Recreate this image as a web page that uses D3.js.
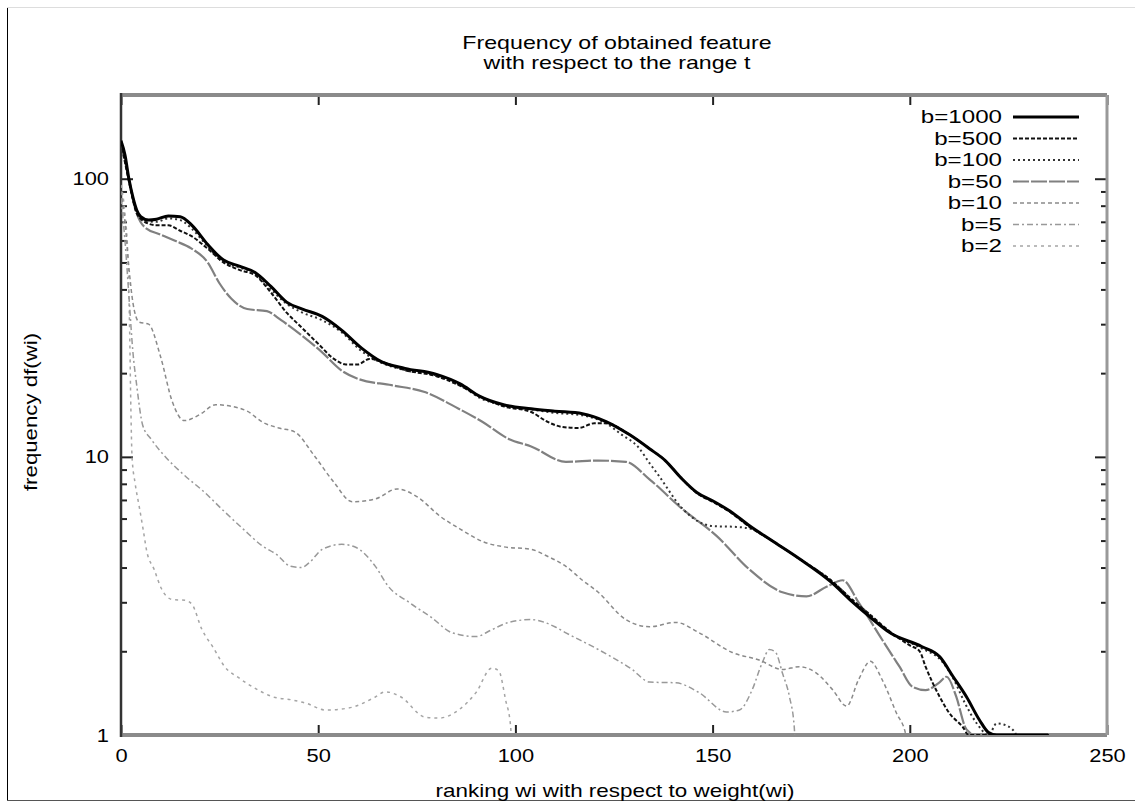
<!DOCTYPE html>
<html>
<head>
<meta charset="utf-8">
<script src="https://cdn.jsdelivr.net/npm/d3@7"></script>
<style>
  body { margin: 0; background: #fff; }
  text { font-family: "Liberation Sans", Arial, sans-serif; fill: #000; }
</style>
</head>
<body>
<script>
// DATA (x = rank, y = frequency)
const seriesNames = ['b=1000', 'b=500', 'b=100', 'b=50', 'b=10', 'b=5', 'b=2'];
const xTicks = [0, 50, 100, 150, 200, 250];
const yTicks = [1, 10, 100];

const b1000 = [[0,137],[1,122],[2,100],[3,86],[4,77],[5,73],[7,71],[9,71.5],[12,73.5],[15,73],[18,68],[22,58],[26,51],[30,48.5],[34,46],[38,41],[42,36],[46,34],[51,32],[56,28.5],[61,24.6],[66,22],[72,20.8],[80,19.8],[86,18.3],[91,16.5],[97,15.4],[104,14.9],[110,14.6],[117,14.3],[123,13.4],[129,12],[134,10.7],[138,9.7],[142,8.4],[146,7.45],[150,6.95],[155,6.3],[159,5.7],[165,5.0],[172,4.3],[180,3.55],[185,3.05],[190,2.65],[195,2.33],[203,2.08],[207.6,1.91],[211,1.62],[214.4,1.37],[217.7,1.13],[220,1.02],[222,1.0],[235,1.0],[236,0.3]];
const b500 = [[0,135],[2,98],[4,75],[6,70],[9,68],[12,68],[15,65],[18,62],[22,56],[26,50],[30,47],[34,45],[38,39],[42,33],[46,29],[50,25.5],[54,22.5],[57,21.5],[60,21.5],[63,22.5],[66,22],[72,20.5],[80,19.5],[86,18],[91,16.5],[97,15.2],[104,14.5],[108,13.4],[112,12.8],[116,12.7],[120,13.2],[123,13.2],[129,12],[134,10.7],[138,9.7],[142,8.4],[146,7.4],[150,6.9],[155,6.25],[159,5.65],[165,5.0],[172,4.3],[180,3.6],[185,3.1],[190,2.7],[195,2.35],[200,2.1],[202.5,2.0],[204,1.76],[205.8,1.54],[207.6,1.37],[210,1.2],[213.4,1.07],[215,1.0],[228,1.0],[229,0.3]];
const b100 = [[0,136],[2,99],[4,76],[6,71],[9,70],[12,72],[15,71],[18,66],[22,57],[26,50],[30,48],[34,45.5],[38,40],[42,35.5],[46,33],[51,31],[56,28],[61,24],[66,21.8],[72,20.5],[80,19.6],[86,18.1],[91,16.3],[97,15.3],[104,14.8],[110,14.4],[117,14.1],[123,13.2],[127,12],[131,10.9],[134,9.5],[136.5,8.5],[142,6.6],[146,5.9],[150,5.64],[156,5.6],[160,5.5],[165,5.0],[172,4.3],[180,3.6],[185,3.1],[190,2.7],[195,2.33],[203,2.05],[208,1.85],[211,1.6],[214,1.3],[217,1.1],[220,1.0],[222,1.1],[224.6,1.08],[227,1.0],[228,0.3]];
const b50 = [[0,135],[2,100],[4,75],[6,67],[10,63],[13.7,59.8],[17.8,56.2],[22,50],[25,42],[28,37],[32,34],[37,33.4],[40.6,31],[45.7,27.4],[50.8,23.9],[56,20.4],[60,19.1],[68.6,18.1],[77,17.1],[85.6,14.9],[91.5,13.4],[98.3,11.6],[104,10.9],[112.8,9.6],[121,9.7],[128,9.6],[134,8.3],[142.3,6.5],[151,5.2],[159.3,3.94],[167.7,3.26],[173.8,3.15],[179,3.42],[183,3.6],[187,3.0],[193,2.2],[197.4,1.76],[200.7,1.49],[204,1.45],[207.6,1.55],[209.3,1.62],[211.8,1.37],[214,1.07],[216,0.98],[217,0.3]];
const b10 = [[0,90],[1,70],[2,48],[3,36],[4.6,30.5],[7,30],[10,23],[13,15.8],[16,13.5],[20,14.2],[24,15.4],[28,15.2],[32,14.6],[36,13.3],[40,12.7],[44,12.3],[49,10.1],[54,8.1],[58.6,6.9],[64.5,7.06],[70,7.67],[75,7.2],[81,6.1],[86,5.5],[92,4.94],[97,4.75],[104,4.65],[108,4.4],[112.8,4.04],[117,3.6],[121,3.26],[128,2.6],[134,2.45],[140.7,2.54],[146.6,2.33],[155,1.98],[161.8,1.86],[167.7,1.72],[172,1.76],[176.3,1.67],[180.5,1.45],[184,1.27],[187,1.58],[190,1.84],[193,1.58],[196.6,1.2],[199,1.0],[200,0.3]];
const b5 = [[0,85],[1,60],[2,38],[3,24],[4,18],[5.5,13],[7.6,11.6],[11,10.1],[16,8.6],[21,7.5],[26,6.4],[31,5.5],[35.7,4.8],[39.5,4.45],[43,4.04],[45.7,4.0],[48,4.2],[51,4.65],[56,4.85],[59.5,4.73],[64.5,4.04],[67.8,3.42],[73,3.0],[78.8,2.64],[84,2.33],[90,2.26],[94,2.39],[98.3,2.54],[104,2.6],[110,2.45],[112.8,2.33],[121,2.03],[129.6,1.72],[134,1.55],[140.7,1.54],[146.6,1.42],[153.5,1.21],[156.8,1.23],[160,1.45],[162.6,1.82],[164.4,2.03],[166,1.98],[167.7,1.67],[169.5,1.37],[170.7,1.07],[171.5,0.3]];
const b2 = [[0,95],[1,75],[1.8,50],[2.2,28],[2.5,15],[2.8,10],[3.6,8.0],[4.6,6.65],[5.6,5.5],[6.5,4.6],[8.4,3.94],[10.2,3.37],[13,3.07],[16.3,3.05],[18,2.95],[20.5,2.4],[23.5,2.05],[26.3,1.76],[30,1.6],[34.8,1.45],[38.6,1.37],[43,1.34],[47,1.3],[51.8,1.23],[57.7,1.25],[64.5,1.37],[67,1.43],[71,1.37],[77,1.16],[80.5,1.15],[85.6,1.23],[90,1.42],[94,1.74],[95.8,1.7],[97.5,1.34],[98.8,1.07],[99.5,0.3]];

const seriesData = [b1000, b500, b100, b50, b10, b5, b2];

// line styles per series
const styles = [
  { stroke: '#000', width: 3, dash: null },
  { stroke: '#111', width: 2, dash: '4,2' },
  { stroke: '#333', width: 2, dash: '2,3' },
  { stroke: '#808080', width: 2.2, dash: '16,2' },
  { stroke: '#8a8a8a', width: 1.5, dash: '4,3' },
  { stroke: '#999', width: 1.5, dash: '6,3,2,3' },
  { stroke: '#a5a5a5', width: 1.5, dash: '3,4' },
];

const plotLeft = 121, plotRight = 1107, plotTop = 95, plotBottom = 735;

// the original font is wider than Liberation Sans
const widen = (sel, k) => sel.each(function () {
  const len = this.getComputedTextLength();
  d3.select(this).attr('textLength', len * k).attr('lengthAdjust', 'spacingAndGlyphs');
});

const svg = d3.select('body').append('svg')
  .attr('width', 1135)
  .attr('height', 804);

const x = d3.scaleLinear().domain([0, 250]).range([plotLeft, plotRight]);
const y = d3.scaleLog().domain([1, 200]).range([plotBottom, plotTop]);

// outer frame
svg.append('line').attr('x1', 7.5).attr('x2', 7.5).attr('y1', 7).attr('y2', 801).attr('stroke', '#000');
svg.append('line').attr('x1', 7).attr('x2', 1135).attr('y1', 7.5).attr('y2', 7.5).attr('stroke', '#ddd');
svg.append('line').attr('x1', 7).attr('x2', 1135).attr('y1', 800.5).attr('y2', 800.5).attr('stroke', '#555');

// TITLE
svg.append('text').attr('x', 617).attr('y', 49).attr('text-anchor', 'middle')
  .style('font-size', '19px').text('Frequency of obtained feature').call(widen, 1.22);
svg.append('text').attr('x', 617).attr('y', 69).attr('text-anchor', 'middle')
  .style('font-size', '19px').text('with respect to the range t').call(widen, 1.22);

// AXES
const minorTicks = [];
[1, 10, 100].forEach((d) => {
  for (let k = 2; k <= 9; k++) if (d * k < 200) minorTicks.push(d * k);
});

const gy = svg.append('g').attr('transform', `translate(${plotLeft},0)`)
  .call(d3.axisLeft(y).tickValues(yTicks).tickFormat(d3.format('d')).tickSize(-12).tickPadding(12));
const gyMinor = svg.append('g').attr('transform', `translate(${plotLeft},0)`)
  .call(d3.axisLeft(y).tickValues(minorTicks).tickFormat('').tickSize(-6));
const gyR = svg.append('g').attr('transform', `translate(${plotRight},0)`)
  .call(d3.axisRight(y).tickValues(yTicks).tickFormat('').tickSize(-12));
const gyRMinor = svg.append('g').attr('transform', `translate(${plotRight},0)`)
  .call(d3.axisRight(y).tickValues(minorTicks).tickFormat('').tickSize(-6));
const gx = svg.append('g').attr('transform', `translate(0,${plotBottom})`)
  .call(d3.axisBottom(x).tickValues(xTicks).tickFormat(d3.format('d')).tickSize(-10).tickPadding(14));
const gxT = svg.append('g').attr('transform', `translate(0,${plotTop})`)
  .call(d3.axisTop(x).tickValues(xTicks).tickFormat('').tickSize(-10));

[gy, gyMinor, gyR, gyRMinor, gx, gxT].forEach((g) => {
  g.select('.domain').remove();
  g.selectAll('.tick line').attr('stroke', '#222').attr('stroke-width', 2);
  g.selectAll('.tick text').style('font-size', '19px').attr('fill', '#000')
    .style('font-family', '"Liberation Sans", Arial, sans-serif')
    .call(widen, 1.15);
});

// borders
svg.append('line').attr('x1', plotLeft).attr('x2', plotRight).attr('y1', plotTop).attr('y2', plotTop)
  .attr('stroke', '#8a8a8a').attr('stroke-width', 4);
svg.append('line').attr('x1', plotLeft).attr('x2', plotRight).attr('y1', plotBottom).attr('y2', plotBottom)
  .attr('stroke', '#8a8a8a').attr('stroke-width', 4);
svg.append('line').attr('x1', plotRight).attr('x2', plotRight).attr('y1', plotTop).attr('y2', plotBottom)
  .attr('stroke', '#999').attr('stroke-width', 3);
svg.append('line').attr('x1', plotLeft).attr('x2', plotLeft).attr('y1', plotTop - 2).attr('y2', plotBottom + 2)
  .attr('stroke', '#333').attr('stroke-width', 2.5);

// axis labels
svg.append('text').attr('x', 615).attr('y', 797).attr('text-anchor', 'middle')
  .style('font-size', '19px').text('ranking wi with respect to weight(wi)').call(widen, 1.18);
svg.append('text').attr('transform', 'translate(37,412) rotate(-90)').attr('text-anchor', 'middle')
  .style('font-size', '19px').text('frequency df(wi)').call(widen, 1.17);

// CURVES
svg.append('clipPath').attr('id', 'plot-clip').append('rect')
  .attr('x', plotLeft).attr('y', plotTop).attr('width', plotRight - plotLeft).attr('height', plotBottom - plotTop);

const line = d3.line()
  .x((d) => x(d[0]))
  .y((d) => y(d[1]))
  .curve(d3.curveMonotoneX);

const plot = svg.append('g').attr('clip-path', 'url(#plot-clip)');
for (let i = seriesData.length - 1; i >= 0; i--) {
  plot.append('path')
    .attr('d', line(seriesData[i]))
    .attr('fill', 'none')
    .attr('stroke', styles[i].stroke)
    .attr('stroke-width', styles[i].width)
    .attr('stroke-dasharray', styles[i].dash);
}

// LEGEND
const legend = svg.append('g');
seriesNames.forEach((name, i) => {
  const ly = 117 + i * 21.5;
  legend.append('text').attr('x', 1002).attr('y', ly + 6).attr('text-anchor', 'end')
    .style('font-size', '19px').text(name).call(widen, 1.27);
  legend.append('line').attr('x1', 1013).attr('x2', 1079).attr('y1', ly).attr('y2', ly)
    .attr('stroke', styles[i].stroke)
    .attr('stroke-width', styles[i].width)
    .attr('stroke-dasharray', styles[i].dash);
});
</script>
</body>
</html>
